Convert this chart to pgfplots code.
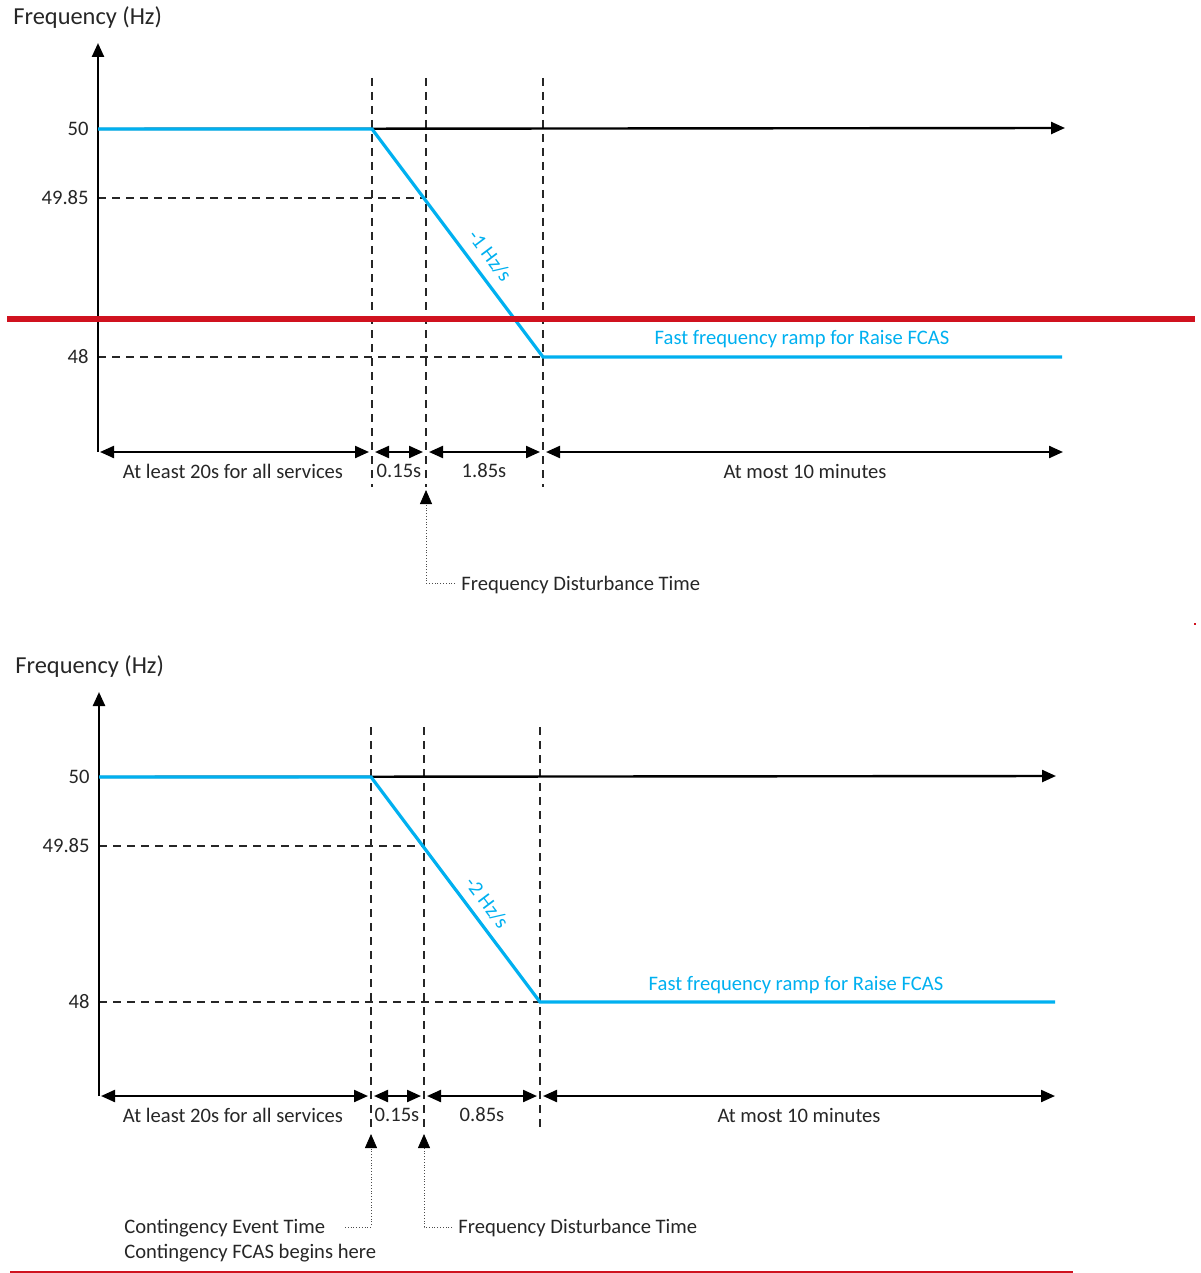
\documentclass[border=0pt]{standalone}
\usepackage{fontspec}
\setmainfont{Carlito}
\usepackage{pgfplots}
\pgfplotsset{compat=1.18}
\usetikzlibrary{arrows.meta}
\definecolor{fblue}{HTML}{00B0F0}
\definecolor{fred}{HTML}{D0121F}
\definecolor{txt}{HTML}{262626}
\tikzset{
  dsh/.style={black!85,line width=0.75pt,dash pattern=on 4pt off 3pt},
  ax/.style={black,line width=1.2pt},
  blu/.style={fblue,line width=1.6pt},
  tip/.style={-{Triangle[length=7pt,width=6pt]}},
  dim/.style={black,line width=1.1pt,{Triangle[length=7pt,width=6pt]}-{Triangle[length=7pt,width=6pt]}},
  call/.style={black!70,line width=0.4pt,densely dotted,-{Triangle[length=7pt,width=6pt,color=black]}},
  lab/.style={font=\fontsize{10.3}{12}\selectfont,text=txt,inner sep=0pt},
  ttl/.style={font=\fontsize{12.2}{14}\selectfont,text=txt,inner sep=0pt,anchor=west},
}
\begin{document}
\begin{tikzpicture}
\begin{axis}[width=600pt,height=636.5pt,scale only axis,
  xmin=0,xmax=1200,ymin=0,ymax=1273,y dir=reverse,hide axis,clip=false]
\path (axis cs:0,0) rectangle (axis cs:1200,1273);
% ===================== TOP PANEL =====================
\node[ttl] at (axis cs:13,18) {Frequency (Hz)};
% dashed guides
\addplot[dsh] coordinates {(372,78) (372,487)};
\addplot[dsh] coordinates {(426,78) (426,487)};
\addplot[dsh] coordinates {(543,78) (543,487)};
\addplot[dsh] coordinates {(98,198) (426,198)};
\addplot[dsh] coordinates {(98,357) (543,357)};
% axes
\addplot[ax,tip] coordinates {(98,452) (98,43)};
\addplot[ax,tip] coordinates {(98,129) (1065,128)};
% frequency trace
\addplot[blu] coordinates {(98,129) (372,129) (543,357) (1062,357)};
% red line
\addplot[fred,line width=2.6pt] coordinates {(7,319) (1195,319)};
% ticks
\node[lab,anchor=east] at (axis cs:89,129) {50};
\node[lab,anchor=east] at (axis cs:89,198) {49.85};
\node[lab,anchor=east] at (axis cs:89,357) {48};
% slope label
\node[lab,text=fblue,rotate=-53] at (axis cs:490,256) {-1 Hz/s};
\node[lab,text=fblue] at (axis cs:802,339) {Fast frequency ramp for Raise FCAS};
% dimension arrows
\addplot[dim] coordinates {(100,452) (369,452)};
\addplot[dim] coordinates {(375,452) (423,452)};
\addplot[dim] coordinates {(429,452) (540,452)};
\addplot[dim] coordinates {(546,452) (1063,452)};
\node[lab] at (axis cs:233,471) {At least 20s for all services};
\node[lab] at (axis cs:399,471) {0.15s};
\node[lab] at (axis cs:484,471) {1.85s};
\node[lab] at (axis cs:805,471) {At most 10 minutes};
% callout
\addplot[call] coordinates {(455,583) (426,583) (426,490)};
\node[lab,anchor=west] at (axis cs:461,585) {Frequency Disturbance Time};
% stray red dot
\addplot[only marks,mark=square*,mark size=0.4pt,fred] coordinates {(1195,624)};
% ===================== BOTTOM PANEL =====================
\node[ttl] at (axis cs:15,667) {Frequency (Hz)};
\addplot[dsh] coordinates {(371,727) (371,1130)};
\addplot[dsh] coordinates {(424,727) (424,1130)};
\addplot[dsh] coordinates {(540,727) (540,1130)};
\addplot[dsh] coordinates {(99,846) (424,846)};
\addplot[dsh] coordinates {(99,1002) (540,1002)};
\addplot[ax,tip] coordinates {(99,1096) (99,692)};
\addplot[ax,tip] coordinates {(99,777) (1056,776)};
\addplot[blu] coordinates {(99,777) (371,777) (540,1002) (1055,1002)};
\node[lab,anchor=east] at (axis cs:90,777) {50};
\node[lab,anchor=east] at (axis cs:90,846) {49.85};
\node[lab,anchor=east] at (axis cs:90,1002) {48};
\node[lab,text=fblue,rotate=-53] at (axis cs:487,903) {-2 Hz/s};
\node[lab,text=fblue] at (axis cs:796,985) {Fast frequency ramp for Raise FCAS};
\addplot[dim] coordinates {(101,1096) (368,1096)};
\addplot[dim] coordinates {(374,1096) (421,1096)};
\addplot[dim] coordinates {(427,1096) (537,1096)};
\addplot[dim] coordinates {(543,1096) (1055,1096)};
\node[lab] at (axis cs:233,1115) {At least 20s for all services};
\node[lab] at (axis cs:397,1115) {0.15s};
\node[lab] at (axis cs:482,1115) {0.85s};
\node[lab] at (axis cs:799,1115) {At most 10 minutes};
\addplot[call] coordinates {(345,1227) (371,1227) (371,1134)};
\addplot[call] coordinates {(452,1227) (424,1227) (424,1134)};
\node[lab,anchor=west] at (axis cs:124,1228) {Contingency Event Time};
\node[lab,anchor=west] at (axis cs:124,1253) {Contingency FCAS begins here};
\node[lab,anchor=west] at (axis cs:458,1228) {Frequency Disturbance Time};
\addplot[fred,line width=1pt] coordinates {(10,1272) (1073,1272)};
\end{axis}
\end{tikzpicture}
\end{document}
